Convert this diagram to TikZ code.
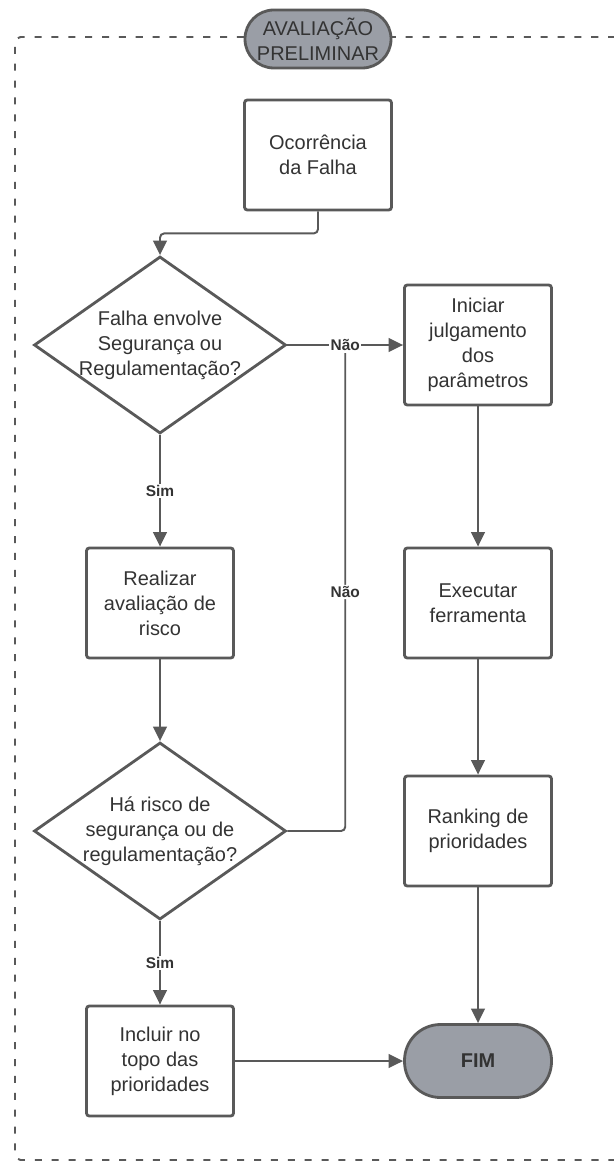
\documentclass[tikz,border=0pt]{standalone}
\usepackage{fontspec}
\setmainfont{Liberation Sans}
\usetikzlibrary{shapes.geometric, arrows.meta, positioning}

\definecolor{linha}{HTML}{595959}
\definecolor{preenche}{HTML}{9A9EA6}
\definecolor{texto}{HTML}{333333}

\begin{document}
\begin{tikzpicture}[
      on grid,
      font=\fontsize{14.2pt}{17.8pt}\selectfont,
      block/.style={rectangle, draw=linha, line width=2pt, fill=white, text=texto, align=center, rounded corners=2pt, minimum width=3.675cm, minimum height=2.75cm},
      decision/.style={diamond, aspect=1.42, draw=linha, line width=2pt, fill=white, text=texto, align=center, inner sep=-4pt, minimum width=6.3cm, minimum height=4.425cm},
      terminal/.style={rectangle, draw=linha, line width=2pt, fill=preenche, text=texto, rounded corners=0.9cm, minimum width=3.675cm, minimum height=1.825cm, font=\bfseries\fontsize{14.2pt}{17.8pt}\selectfont},
      groupbox/.style={rectangle, draw=linha, line width=2pt, fill=preenche, text=texto, align=center, inner sep=0pt, rounded corners=0.72cm, minimum width=3.65cm, minimum height=1.45cm},
      moldura/.style={draw=linha, line width=1.4pt, dash pattern=on 5pt off 7pt},
      conn/.style={draw=linha, line width=1.4pt},
      flow/.style={conn, -{Triangle[length=0.36cm, width=0.34cm]}},
      answer/.style={font=\bfseries\fontsize{11pt}{13pt}\selectfont, text=texto, fill=white, inner sep=1pt}
      ]
      \useasboundingbox (0,0) rectangle (15.325,-29.05);

      % Frame
      \draw[moldura, rounded corners=4pt] (15.8,-0.925) -- (0.375,-0.925) -- (0.375,-29.0) -- (15.8,-29.0);

      % Nodes
      \node[groupbox] (titulo) at (7.95,-0.975) {AVALIAÇÃO\\PRELIMINAR};
      \node[block, below=2.9cm of titulo] (falha) {Ocorrência\\da Falha};
      \node[decision, below=4.75cm of falha, xshift=-3.95cm] (envolve) {Falha envolve\\Segurança ou\\Regulamentação?};
      \node[block, right=7.95cm of envolve, minimum height=3cm] (iniciar) {Iniciar\\julgamento\\dos\\parâmetros};
      \node[block, below=6.45cm of envolve] (realizar) {Realizar\\avaliação de\\risco};
      \node[block, right=7.95cm of realizar] (executar) {Executar\\ferramenta};
      \node[decision, below=5.7cm of realizar] (risco) {Há risco de\\segurança ou de\\regulamentação?};
      \node[block, right=7.95cm of risco] (ranking) {Ranking de\\prioridades};
      \node[block, below=5.75cm of risco] (incluir) {Incluir no\\topo das\\prioridades};
      \node[terminal, right=7.95cm of incluir] (fim) {FIM};

      % Arrows
      \draw[flow, rounded corners=3pt] (falha.south) -- ++(0,-0.55) -| (envolve.north);
      \draw[flow] (envolve.east) -- node[answer] (nao) {Não} (iniciar.west);
      \draw[flow] (envolve.south) -- node[answer] {Sim} (realizar.north);
      \draw[flow] (realizar) -- (risco);
      \draw[conn, rounded corners=3pt] (risco.east) -| node[answer, pos=0.75] {Não} (nao.south);
      \draw[flow] (iniciar) -- (executar);
      \draw[flow] (executar) -- (ranking);
      \draw[flow] (ranking) -- (fim);
      \draw[flow] (risco.south) -- node[answer] {Sim} (incluir.north);
      \draw[flow] (incluir) -- (fim);
    \end{tikzpicture}
\end{document}
